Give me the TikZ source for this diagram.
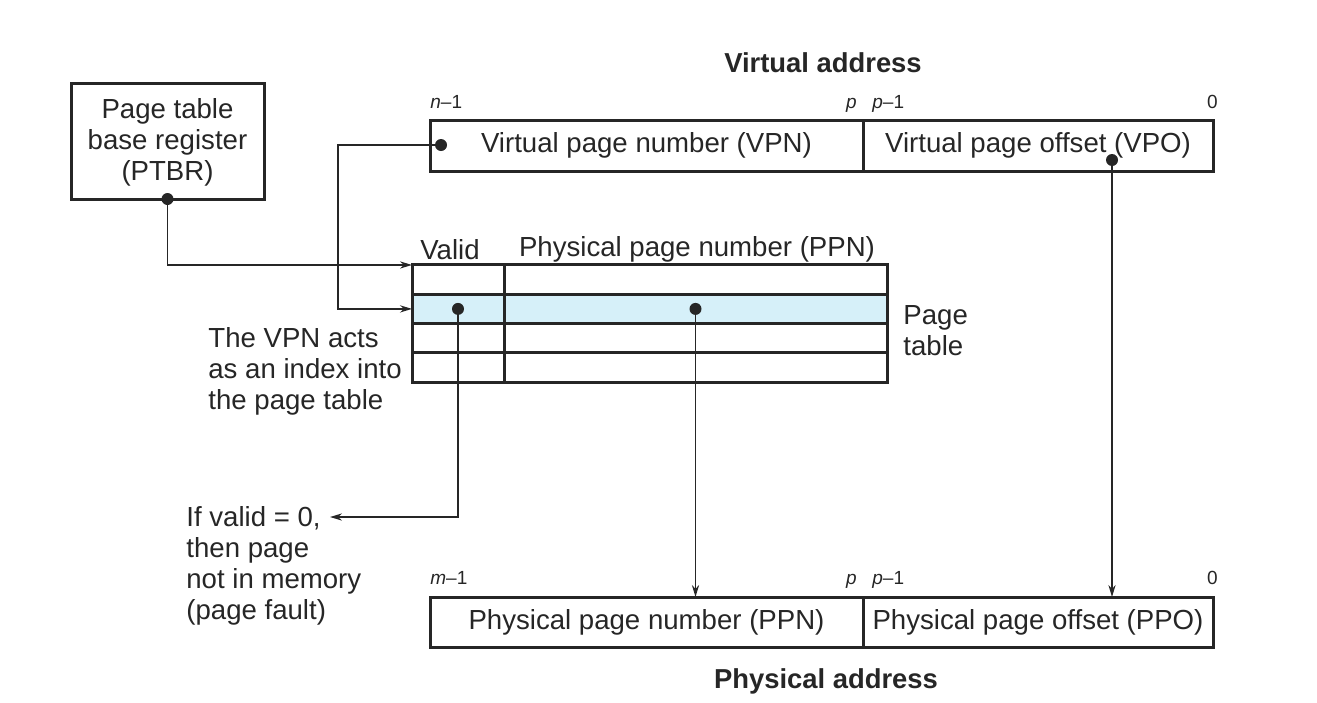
\documentclass[tikz,border=0pt]{standalone}
\usepackage{fontspec}
\setmainfont{Liberation Sans}
\usetikzlibrary{arrows.meta}
\definecolor{ink}{HTML}{262626}
\definecolor{rowblue}{HTML}{D6F0F9}
\begin{document}
\begin{tikzpicture}[x=0.5pt,y=-0.5pt,
  box/.style={draw=ink,line width=1.5pt,inner sep=0pt,outer sep=0pt},
  txt/.style={font=\fontsize{13.8}{15.5}\selectfont,text=ink,inner sep=0pt},
  bit/.style={font=\fontsize{9.5}{11}\selectfont,text=ink,inner sep=0pt},
  ttl/.style={font=\bfseries\fontsize{13.7}{15.5}\selectfont,text=ink,inner sep=0pt},
  conn/.style={draw=ink,line width=0.75pt},
  arr/.style={conn,-{Stealth[length=6pt,width=3.6pt]}},
  dotn/.style={circle,fill=ink,inner sep=0pt,minimum size=6pt}]
\useasboundingbox (0,0) rectangle (1317,702);

% PTBR
\node[box,minimum width=96.5pt,minimum height=58pt] (ptbr) at (167.5,141) {};
\node[txt,align=center] (ptbrlbl) at (167.5,142.5) {Page table\\base register\\(PTBR)};

% Virtual address
\node[ttl] (vatitle) at (823,63) {Virtual address};
\node[box,txt,minimum width=216.5pt,minimum height=25.5pt] (vpn) at (646.5,145.5) {Virtual page number (VPN)};
\node[box,txt,minimum width=175pt,minimum height=25.5pt] (vpo) at (1038,145.5) {Virtual page offset (VPO)};
\node[bit,anchor=base west] (vn1) at (430,108) {\textit{n}–1};
\node[bit,anchor=base east] (vp) at (857,108) {\textit{p}};
\node[bit,anchor=base west] (vp1) at (872,108) {\textit{p}–1};
\node[bit,anchor=base east] (v0) at (1218,108) {0};

% Page table
\node[box,fill=white,minimum width=46pt,minimum height=14.625pt] (v1) at (458,279.6) {};
\node[box,fill=rowblue,minimum width=46pt,minimum height=14.625pt] (v2) at (458,308.9) {};
\node[box,fill=white,minimum width=46pt,minimum height=14.625pt] (v3) at (458,338.1) {};
\node[box,fill=white,minimum width=46pt,minimum height=14.625pt] (v4) at (458,367.4) {};
\node[box,fill=white,minimum width=191.5pt,minimum height=14.625pt] (p1) at (695.5,279.6) {};
\node[box,fill=rowblue,minimum width=191.5pt,minimum height=14.625pt] (p2) at (695.5,308.9) {};
\node[box,fill=white,minimum width=191.5pt,minimum height=14.625pt] (p3) at (695.5,338.1) {};
\node[box,fill=white,minimum width=191.5pt,minimum height=14.625pt] (p4) at (695.5,367.4) {};
\node[txt,anchor=base] (validlbl) at (450,259) {Valid};
\node[txt,anchor=base] (ppnlbl) at (697,256) {Physical page number (PPN)};
\node[txt,align=left,anchor=west] (ptlbl) at (903,330.5) {Page\\table};
\node[txt,align=left,anchor=west] (idxlbl) at (208,371) {The VPN acts\\as an index into\\the page table};

% Physical address
\node[box,txt,minimum width=216.5pt,minimum height=25pt] (ppn) at (646.5,622) {Physical page number (PPN)};
\node[box,txt,minimum width=175pt,minimum height=25pt] (ppo) at (1038,622) {Physical page offset (PPO)};
\node[bit,anchor=base west] (pm1) at (430,584) {\textit{m}–1};
\node[bit,anchor=base east] (pp) at (857,584) {\textit{p}};
\node[bit,anchor=base west] (pp1) at (872,584) {\textit{p}–1};
\node[bit,anchor=base east] (p0) at (1218,584) {0};
\node[ttl] (patitle) at (826,681) {Physical address};

% fault text
\node[txt,align=left,anchor=west] (fault) at (186,566) {If valid = 0,\\then page\\not in memory\\(page fault)};

% coordinates
\coordinate (vpndot) at (441,145);
\coordinate (vpodot) at (1112,160);
\coordinate (bend) at (338,145);
\coordinate (faultend) at (330,517);

% connectors
\draw[arr] (ptbr.south) |- (v1.north west);
\draw[arr] (vpndot) -- (bend) |- (v2.west);
\draw[arr] (v2.center) |- (faultend);
\draw[arr] (p2.center) -- (p2.center |- ppn.north);
\draw[arr] (vpodot) -- (vpodot |- ppo.north);

% dots
\node[dotn] (d1) at (ptbr.south) {};
\node[dotn] (d2) at (vpndot) {};
\node[dotn] (d3) at (vpodot) {};
\node[dotn] (d4) at (v2.center) {};
\node[dotn] (d5) at (p2.center) {};
\end{tikzpicture}
\end{document}
